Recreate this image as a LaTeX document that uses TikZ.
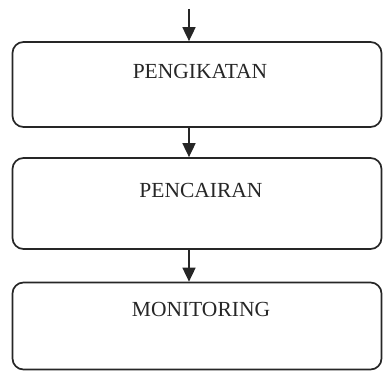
\documentclass[tikz,border=0pt]{standalone}
\usepackage{fontspec}
\setmainfont{Liberation Serif}
\usetikzlibrary{arrows.meta}
\begin{document}
\begin{tikzpicture}[x=1pt,y=-1pt,
  box/.style={draw=black!85, line width=1.7pt, rounded corners=11pt, minimum width=369pt, inner sep=0pt},
  lbl/.style={font=\fontsize{21.5}{24}\selectfont, text=black!85, inner sep=0pt},
  arr/.style={draw=black!85, line width=1.7pt, -{Triangle[length=14pt,width=13pt]}}]
\useasboundingbox (0,0) rectangle (383,371);
\node[box, minimum height=85pt] (b1) at (197,84.5) {};
\node[box, minimum height=91pt] (b2) at (197,203.5) {};
\node[box, minimum height=87pt] (b3) at (197,326) {};
\node[lbl] (t1) at (200,71) {PENGIKATAN};
\node[lbl] (t2) at (201,190) {PENCAIRAN};
\node[lbl] (t3) at (201,309) {MONITORING};
\coordinate (s0) at (189,9);
\draw[arr] (s0) -- (s0 |- b1.north);
\draw[arr] (s0 |- b1.south) -- (s0 |- b2.north);
\draw[arr] (s0 |- b2.south) -- (s0 |- b3.north);
\end{tikzpicture}
\end{document}
